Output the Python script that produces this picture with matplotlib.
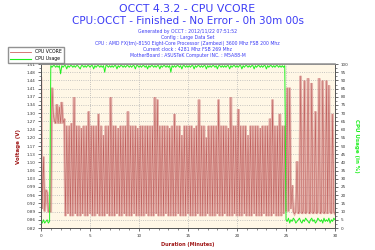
import numpy as np
import matplotlib
matplotlib.use("Agg")
import matplotlib.pyplot as plt
from matplotlib.ticker import MultipleLocator, FixedLocator
from matplotlib.lines import Line2D

# one sample every 7.5 s (0.125 min)
sample_min = 0.125

# CPU VCORE (V)
vcore_idle_start = [1.45, 0.90, 1.12, 0.89, 0.98, 0.97, 0.89, 0.89,
                    0.89, 1.41, 1.30, 1.27, 1.26, 1.34, 1.26, 1.33,
                    1.26, 1.35, 1.26, 1.28]
vcore_load = [
    0.87, 1.25, 0.88, 1.25, 0.87, 1.26, 0.87, 1.37, 0.88, 1.25, 0.87, 1.25, 0.87, 1.24, 0.88, 1.25,
    0.87, 1.25, 0.87, 1.31, 0.88, 1.25, 0.87, 1.25, 0.87, 1.25, 0.88, 1.30, 0.87, 1.25, 0.87, 1.21,
    0.87, 1.25, 0.88, 1.25, 0.87, 1.37, 0.87, 1.25, 0.87, 1.25, 0.88, 1.24, 0.87, 1.25, 0.87, 1.25,
    0.88, 1.25, 0.87, 1.31, 0.87, 1.25, 0.87, 1.25, 0.88, 1.25, 0.87, 1.24, 0.87, 1.25, 0.87, 1.25,
    0.87, 1.25, 0.88, 1.25, 0.87, 1.25, 0.87, 1.25, 0.87, 1.37, 0.88, 1.36, 0.87, 1.25, 0.87, 1.25,
    0.87, 1.25, 0.88, 1.25, 0.87, 1.24, 0.87, 1.25, 0.87, 1.30, 0.87, 1.25, 0.88, 1.25, 0.87, 1.21,
    0.87, 1.25, 0.87, 1.25, 0.88, 1.25, 0.87, 1.25, 0.87, 1.24, 0.87, 1.25, 0.88, 1.36, 0.87, 1.25,
    0.87, 1.25, 0.87, 1.20, 0.88, 1.25, 0.87, 1.25, 0.87, 1.25, 0.87, 1.25, 0.88, 1.36, 0.87, 1.25,
    0.87, 1.25, 0.88, 1.25, 0.87, 1.24, 0.87, 1.37, 0.87, 1.25, 0.88, 1.25, 0.87, 1.32, 0.87, 1.25,
    0.87, 1.25, 0.88, 1.25, 0.87, 1.21, 0.87, 1.25, 0.87, 1.25, 0.88, 1.25, 0.87, 1.25, 0.87, 1.24,
    0.87, 1.25, 0.88, 1.25, 0.87, 1.25, 0.87, 1.28, 0.87, 1.36, 0.88, 1.25, 0.87, 1.25, 0.87, 1.30,
    0.87, 1.25, 0.88, 1.25]
vcore_idle_end = [0.89, 1.41, 0.89, 1.41, 0.90, 1.00, 0.89, 0.88, 0.89, 1.10, 0.88, 0.89,
                  1.46, 0.88, 0.89, 1.44, 0.88, 0.89, 1.45, 0.88, 0.89, 1.43, 0.88, 0.89,
                  1.31, 0.88, 0.89, 1.45, 0.88, 0.89, 1.44, 0.88, 0.89, 1.44, 0.88, 1.42,
                  0.89, 0.88, 1.30, 0.89, 0.88]

# CPU Usage (%)
usage_idle_start = [4, 3, 5, 3, 4, 5, 3, 4]
usage_load = [
    99, 98, 99, 99, 98, 99, 98, 99, 94, 99, 98, 99, 99, 97, 99, 98,
    99, 99, 98, 99, 98, 99, 99, 98, 97, 99, 99, 98, 99, 98, 99, 99,
    98, 99, 99, 97, 99, 98, 99, 99, 98, 99, 98, 99, 95, 99, 99, 98,
    99, 98, 99, 98, 99, 99, 97, 99, 98, 99, 99, 98, 99, 98, 99, 99,
    98, 99, 98, 99, 99, 97, 99, 99, 98, 99, 98, 99, 99, 98, 99, 97,
    99, 98, 99, 99, 98, 99, 98, 99, 99, 97, 99, 98, 99, 99, 98, 99,
    98, 99, 95, 99, 98, 99, 98, 99, 99, 98, 99, 97, 99, 99, 98, 99,
    98, 99, 98, 99, 99, 97, 99, 98, 99, 99, 98, 99, 98, 99, 99, 97,
    99, 98, 99, 98, 99, 99, 98, 99, 97, 99, 99, 98, 99, 98, 99, 98,
    99, 99, 97, 99, 98, 99, 99, 98, 99, 98, 99, 99, 97, 99, 98, 99,
    99, 98, 99, 98, 99, 99, 97, 99, 98, 99, 99, 98, 99, 98, 99, 99,
    97, 99, 98, 99, 99, 98, 99, 98, 99, 99, 98, 99, 98, 99, 98, 99]
usage_idle_end = [5, 4, 6, 3, 5, 4, 6, 5, 3, 4, 5, 6, 4, 3, 5, 4, 6, 5, 4, 3,
                  5, 6, 4, 5, 3, 4, 6, 5, 4, 5, 3, 6, 4, 5, 4, 6, 3, 5, 4, 6, 5]

volt_ticks = ["0.82", "0.86", "0.89", "0.92", "0.96", "0.99", "1.03", "1.06", "1.10", "1.13",
              "1.17", "1.20", "1.24", "1.27", "1.30", "1.34", "1.37", "1.41", "1.44", "1.48", "1.51"]

title1 = "OCCT 4.3.2 - CPU VCORE"
title2 = "CPU:OCCT - Finished - No Error - 0h 30m 00s"
info_lines = ["Generated by OCCT : 2012/11/22 07:51:52",
              "Config : Large Data Set",
              "CPU : AMD FX(tm)-8150 Eight-Core Processor (Zambezi) 3600 Mhz FSB 200 Mhz",
              "Current clock : 4281 Mhz FSB 269 Mhz",
              "MotherBoard : ASUSTeK Computer INC. : M5A88-M"]

vcore = vcore_idle_start + vcore_load + vcore_idle_end
usage = usage_idle_start + usage_load + usage_idle_end
t_v = np.arange(len(vcore)) * sample_min
t_u = np.arange(len(usage)) * sample_min

blue = "#3c3cf5"
dred = "#a01818"
green = "#1ef01e"

fig = plt.figure(figsize=(3.75, 2.5), dpi=100)
ax = fig.add_axes([41/375, 22/250, 294/375, 164/250])
ax.set_facecolor("#fff7e6")

# wide pale stroke gives the pink body, thin dark stroke the plateaus and spikes
ax.plot(t_v, vcore, color="#d48888", lw=1.9, alpha=0.6, solid_joinstyle="miter")
ax.plot(t_v, vcore, color="#9c1010", lw=0.4, alpha=0.5)
ax.set_xlim(0, 30)
ax.set_ylim(0.82, 1.51)
ax.yaxis.set_major_locator(FixedLocator(np.linspace(0.82, 1.51, 21)))
ax.set_yticklabels(volt_ticks)
ax.yaxis.set_minor_locator(FixedLocator(np.linspace(0.82, 1.51, 41)))
ax.xaxis.set_major_locator(MultipleLocator(5))
ax.xaxis.set_minor_locator(MultipleLocator(1))
ax.grid(True, which="major", color="#b4b4b4", linestyle=":", lw=0.6)
ax.tick_params(which="major", length=2.5, width=0.5, labelsize=3, colors="#333333", pad=1.5)
ax.tick_params(which="minor", length=1.5, width=0.4, colors="#333333")
ax.set_ylabel("Voltage (V)", color=dred, fontsize=4, fontweight="bold", labelpad=4)
ax.set_xlabel("Duration (Minutes)", color=dred, fontsize=3.6, fontweight="bold", labelpad=3)

ax2 = ax.twinx()
ax2.plot(t_u, usage, color=green, lw=0.7)
ax2.set_ylim(0, 100)
ax2.yaxis.set_major_locator(MultipleLocator(5))
ax2.yaxis.set_minor_locator(MultipleLocator(2.5))
ax2.tick_params(which="major", length=2.5, width=0.5, labelsize=3, colors="#333333", pad=1.5)
ax2.tick_params(which="minor", length=1.5, width=0.4, colors="#333333")
ax2.set_ylabel("CPU Usage (in %)", color=green, fontsize=4, fontweight="bold",
               rotation=270, labelpad=8)

for a in (ax, ax2):
    for s in a.spines.values():
        s.set_color("#555555")
        s.set_linewidth(0.6)
ax2.spines["top"].set_color("#999999")
ax2.spines["top"].set_linewidth(1.2)

fig.text(0.5, 1 - 9/250, title1, ha="center", va="center", color=blue, fontsize=7.8)
fig.text(0.5, 1 - 21/250, title2, ha="center", va="center", color=blue, fontsize=7.5)
for k, line in enumerate(info_lines):
    fig.text(0.5, 1 - (32 + 5.8 * k)/250, line, ha="center", va="center",
             color=blue, fontsize=3.3)

handles = [Line2D([], [], color="#d06060", lw=0.6), Line2D([], [], color=green, lw=0.8)]
fig.legend(handles, ["CPU VCORE", "CPU Usage"], loc="upper left",
           bbox_to_anchor=(6/375, 1 - 45/250), fontsize=3.3, frameon=True,
           fancybox=False, edgecolor="#777777", handlelength=4.5,
           borderpad=0.4, labelspacing=0.5, handletextpad=1.0)

fig.savefig("out.png", dpi=100, facecolor="white")
